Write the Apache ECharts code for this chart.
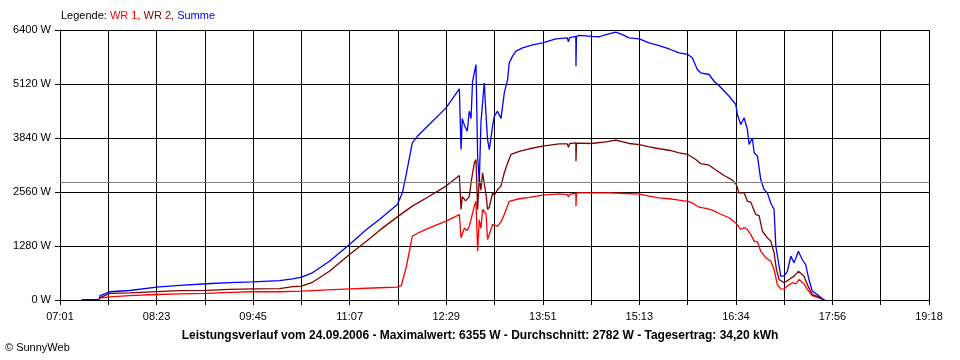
<!DOCTYPE html>
<html>
<head>
<meta charset="utf-8">
<script src="https://cdn.jsdelivr.net/npm/echarts@6/dist/echarts.min.js"></script>
<style>
html,body{margin:0;padding:0;background:#fff;}
#chart{width:960px;height:360px;}
</style>
</head>
<body>
<div id="chart"></div>
<script>
// Tick labels of the time axis (every second tick is labelled)
const tickLabels = ['07:01','08:23','09:45','11:07','12:29','13:51','15:13','16:34','17:56','19:18'];
const axisStartMin = 421;   // 07:01 in minutes of day
const axisEndMin = 1158;    // 19:18 in minutes of day
const tickCount = 18;
const yTicks = [0, 1280, 2560, 3840, 5120, 6400];
const averageW = 2782;

// WR 1 (times in minutes of day, values in W)
const wr1Times = [454.6,463.1,480.1,502.9,522.4,545.3,564.8,584.3,607.2,625.8,666.5,691.9,707.1,710.5,714.8,719.8,725.8,734.2,748.4,759.7,761.1,763.9,766.4,768.1,769.6,772.4,773.8,775.2,776.6,778.0,779.4,782.3,783.6,785.1,787.9,792.1,795.0,797.8,802.0,810.5,819.0,830.2,844.4,851.2,852.2,853.2,858.5,858.6,859.0,861.3,886.8,900.9,912.4,920.6,929.1,937.6,946.1,953.4,957.3,963.0,968.7,974.3,980.0,988.5,994.6,998.4,1001.2,1004.0,1006.9,1009.7,1012.5,1015.3,1019.6,1023.8,1026.6,1029.4,1032.3,1035.1,1037.9,1042.1,1045.0,1047.8,1052.0,1054.8,1059.0,1064.7,1069.0];
const wr1Values = [45,75,105,130,145,155,180,195,195,210,265,290,305,340,800,1510,1605,1710,1870,2025,1475,1700,1650,1750,1910,2225,2340,1155,1900,1700,2145,2050,1435,1480,1790,1750,1850,2025,2340,2400,2435,2485,2515,2500,2440,2505,2530,2225,2530,2540,2540,2525,2510,2460,2420,2400,2365,2340,2300,2200,2170,2130,2050,1950,1815,1670,1720,1670,1550,1395,1380,1155,1000,920,725,365,265,260,330,410,380,485,380,250,105,50,0];

// WR 2
const wr2Times = [454.6,463.1,480.1,502.9,522.4,545.3,564.8,584.3,607.2,618.2,625.8,635.1,649.5,666.5,680.9,691.9,707.1,719.8,734.2,748.4,759.7,761.1,762.2,765.0,768.1,769.6,772.4,773.8,775.2,776.6,778.0,779.4,780.8,782.3,783.6,785.1,787.9,789.3,792.1,795.0,797.8,800.6,803.5,810.5,819.0,830.2,844.4,851.2,852.2,853.2,858.5,858.6,859.0,871.8,884.0,892.4,903.7,912.4,920.6,929.1,937.6,946.1,953.4,960.2,964.4,971.5,975.7,980.0,984.2,991.3,994.6,996.9,1001.2,1004.0,1006.9,1008.2,1011.1,1013.9,1016.7,1020.9,1023.8,1026.6,1028.6,1030.9,1035.1,1039.3,1043.6,1047.2,1052.0,1054.8,1059.0,1064.7,1069.0];
const wr2Values = [50,155,170,200,220,230,250,265,270,315,330,420,680,1080,1395,1650,1970,2225,2460,2700,2950,2145,2450,2350,2450,2780,3250,3330,2145,2900,2600,3015,3050,2500,2145,2200,2540,2480,2620,2700,3015,3250,3450,3525,3585,3645,3700,3700,3620,3705,3725,3290,3720,3710,3750,3790,3710,3685,3630,3585,3550,3490,3450,3330,3230,3195,3110,3030,2950,2840,2735,2540,2540,2340,2320,2225,2025,2000,1630,1475,1395,1120,725,485,410,485,565,680,565,365,130,75,0];

// Summe
const sumTimes = [439.4,454.0,455.0,463.1,480.1,502.9,522.4,545.3,564.8,584.3,607.2,618.2,625.8,635.1,649.5,666.5,680.9,691.9,707.1,711.4,714.8,719.8,724.1,734.2,748.4,759.7,761.1,762.2,763.9,766.4,768.1,769.6,770.9,773.8,775.2,776.6,778.0,780.8,782.3,783.6,785.1,787.9,789.3,792.1,795.0,797.8,800.6,802.0,804.8,807.7,813.3,821.8,830.2,841.6,851.2,852.2,853.2,858.5,858.6,859.0,861.3,871.8,878.3,884.0,892.4,898.0,903.7,912.4,920.6,929.1,937.6,946.1,953.4,957.3,961.6,964.4,971.5,975.7,980.0,988.5,994.1,995.5,998.4,1001.2,1004.0,1005.4,1008.2,1009.7,1012.5,1015.3,1018.1,1020.9,1023.8,1026.6,1028.1,1030.9,1032.3,1035.1,1037.9,1040.8,1043.6,1047.2,1050.5,1053.4,1056.2,1059.0,1063.3,1067.5,1069.8];
const sumValues = [10,10,105,195,225,305,345,385,410,430,460,500,540,645,920,1315,1670,1910,2265,2540,3000,3725,3880,4160,4555,5005,3565,4300,4150,4000,4475,4300,5185,5580,3400,2800,4200,5150,4400,3800,3565,4120,4355,4475,4300,4910,5225,5620,5780,5900,5975,6050,6095,6190,6215,6120,6220,6250,5540,6250,6275,6250,6240,6290,6350,6290,6215,6190,6095,6030,5950,5860,5820,5740,5460,5385,5345,5185,5080,4830,4635,4395,4160,4320,4040,3685,3840,3490,3410,2855,2620,2540,2300,2145,1275,800,565,565,680,1040,880,1155,960,840,485,210,130,30,0];

const minutesPerTick = (axisEndMin - axisStartMin) / tickCount;
function toAxis(t) { return (t - axisStartMin) / minutesPerTick; }
function pairs(times, values) { return times.map((t, i) => [toAxis(t), values[i]]); }

const FONT = 'Liberation Sans';
const chart = echarts.init(document.getElementById('chart'), null, {renderer: 'canvas'});
chart.setOption({
  animation: false,
  backgroundColor: '#ffffff',
  textStyle: {fontFamily: FONT},
  title: [
    {
      text: '{k|Legende: }{a|WR 1, }{b|WR 2, }{c|Summe}',
      left: 61, top: 10, padding: 0,
      textStyle: {
        fontWeight: 'normal',
        rich: {
          k: {color: '#000000', fontSize: 11, fontWeight: 'normal', fontFamily: FONT},
          a: {color: '#ff0000', fontSize: 11, fontWeight: 'normal', fontFamily: FONT},
          b: {color: '#800000', fontSize: 11, fontWeight: 'normal', fontFamily: FONT},
          c: {color: '#0000ff', fontSize: 11, fontWeight: 'normal', fontFamily: FONT}
        }
      }
    },
    {
      text: 'Leistungsverlauf vom 24.09.2006 - Maximalwert: 6355 W - Durchschnitt: 2782 W - Tagesertrag: 34,20 kWh',
      left: 'center', top: 330, padding: 0,
      textStyle: {color: '#000', fontSize: 12, fontWeight: 'bold', fontFamily: FONT}
    },
    {
      text: '© SunnyWeb',
      left: 5, top: 342, padding: 0,
      textStyle: {color: '#000', fontSize: 11, fontWeight: 'normal', fontFamily: FONT}
    }
  ],
  grid: {left: 60, right: 31, top: 30, bottom: 60, containLabel: false},
  xAxis: {
    type: 'value', min: 0, max: tickCount, interval: 1,
    axisLine: {show: true, lineStyle: {color: '#000', width: 1}},
    axisTick: {show: true, length: 5, lineStyle: {color: '#000'}},
    splitLine: {show: true, lineStyle: {color: '#000', width: 1}},
    axisLabel: {
      color: '#000', fontSize: 11, fontFamily: FONT, margin: 11,
      showMinLabel: true, showMaxLabel: true,
      formatter: function (v) {
        const i = Math.round(v);
        return i % 2 === 0 ? tickLabels[i / 2] : '';
      }
    }
  },
  yAxis: {
    type: 'value', min: yTicks[0], max: yTicks[yTicks.length - 1], interval: yTicks[1] - yTicks[0],
    axisLine: {show: true, lineStyle: {color: '#000', width: 1}},
    axisTick: {show: true, length: 5, lineStyle: {color: '#000'}},
    splitLine: {show: true, lineStyle: {color: '#000', width: 1}},
    axisLabel: {color: '#000', fontSize: 11, fontFamily: FONT, margin: 9, formatter: function (v) { return v + ' W'; }}
  },
  series: [
    {
      name: 'WR 1', type: 'line', showSymbol: false, symbol: 'none',
      lineStyle: {color: '#ff0000', width: 1.3}, itemStyle: {color: '#ff0000'},
      data: pairs(wr1Times, wr1Values),
      markLine: {
        silent: true, symbol: 'none', label: {show: false},
        lineStyle: {color: '#808080', type: 'solid', width: 1},
        data: [{yAxis: averageW}]
      }
    },
    {
      name: 'WR 2', type: 'line', showSymbol: false, symbol: 'none',
      lineStyle: {color: '#800000', width: 1.3}, itemStyle: {color: '#800000'},
      data: pairs(wr2Times, wr2Values)
    },
    {
      name: 'Summe', type: 'line', showSymbol: false, symbol: 'none',
      lineStyle: {color: '#0000ff', width: 1.3}, itemStyle: {color: '#0000ff'},
      data: pairs(sumTimes, sumValues)
    }
  ]
});
</script>
</body>
</html>
